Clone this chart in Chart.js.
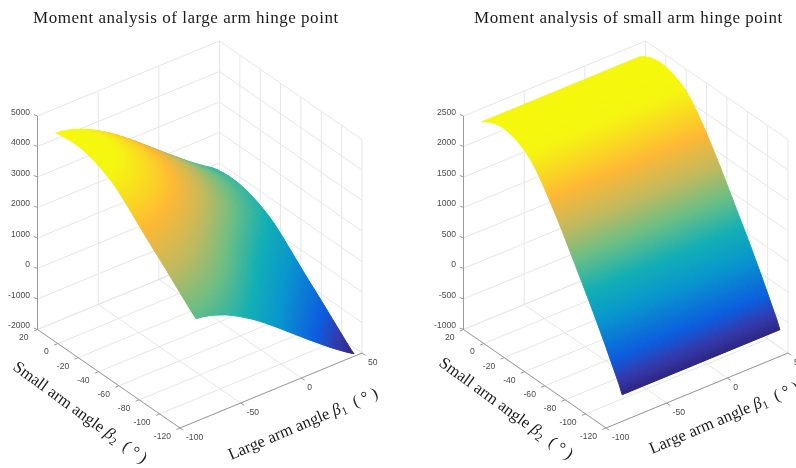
<!DOCTYPE html>
<html>
<head>
<meta charset="utf-8">
<title>Moment analysis</title>
<script src="https://cdn.jsdelivr.net/npm/chart.js@4"></script>
<style>
    html, body { margin: 0; padding: 0; background: #fff; overflow: hidden; }
    canvas { position: absolute; top: 0; filter: blur(0.4px); }
</style>
</head>
<body>
<canvas id="large-arm" width="400" height="468" style="left:0;width:400px;height:468px"></canvas>
<canvas id="small-arm" width="396" height="468" style="left:400px;width:396px;height:468px"></canvas>
<script>
// Angles of the surface samples
const beta1Samples = [-85, -80, -75, -70, -65, -60, -55, -50, -45, -40, -35, -30, -25, -20, -15, -10, -5, 0, 5, 10, 15, 20, 25, 30, 35, 40, 45];
const beta2Samples = [20, 15, 10, 5, 0, -5, -10, -15, -20, -25, -30, -35, -40, -45, -50, -55, -60, -65, -70, -75, -80, -85, -90, -95, -100, -105, -110, -115, -118];

// Large arm moment reads as a beta1 term plus a beta2 term, both taken off the surface edges
const largeArmBeta1Term = [0, -25, -70, -130, -205, -285, -385, -495, -615, -740, -875, -1020, -1170, -1325, -1480, -1640, -1800, -1960, -2120, -2275, -2430, -2585, -2735, -2880, -3020, -3155, -3279];
const largeArmBeta2Term = [4197, 4235, 4262, 4278, 4280, 4265, 4235, 4190, 4125, 4050, 3965, 3870, 3745, 3600, 3445, 3280, 3115, 2950, 2790, 2630, 2480, 2325, 2165, 2005, 1845, 1685, 1525, 1370, 1290];

// Small arm moment only changes with beta2
const smallArmMoment = [2280, 2340, 2385, 2412, 2425, 2420, 2400, 2365, 2320, 2260, 2180, 2070, 1945, 1810, 1670, 1525, 1375, 1215, 1055, 895, 735, 575, 410, 240, 70, -110, -290, -470, -600];

// Tick labels
const beta1Ticks = [-100, -50, 0, 50];
const beta2Ticks = [20, 0, -20, -40, -60, -80, -100, -120];
const largeArmMomentTicks = [-2000, -1000, 0, 1000, 2000, 3000, 4000, 5000];
const smallArmMomentTicks = [-1000, -500, 0, 500, 1000, 1500, 2000, 2500];

// Colour map stops
const mapStops = [0, 0.06, 0.14, 0.3, 0.42, 0.55, 0.66, 0.79, 0.95, 1];
const mapColors = [
    [44, 38, 130], [52, 56, 170], [12, 92, 222], [8, 150, 205], [18, 175, 180],
    [110, 190, 130], [190, 185, 95], [254, 184, 52], [245, 245, 16], [246, 248, 12]
];

const gridColor = '#e6e6e6';
const axisColor = '#9a9a9a';

function colorAt(t) {
    t = Math.min(1, Math.max(0, t));
    let k = 0;
    while (k < mapStops.length - 2 && t > mapStops[k + 1]) k++;
    const f = (t - mapStops[k]) / (mapStops[k + 1] - mapStops[k]);
    const c = mapColors[k].map((v, n) => Math.round(v + (mapColors[k + 1][n] - v) * f));
    return 'rgb(' + c.join(',') + ')';
}

function buildPanel(panel) {
    const beta1Range = [beta1Ticks[0], beta1Ticks[beta1Ticks.length - 1]];
    const beta2Range = [beta2Ticks[0], beta2Ticks[beta2Ticks.length - 1]];
    const zTicks = panel.zTicks;
    const zRange = [zTicks[0], zTicks[zTicks.length - 1]];

    // Fixed MATLAB style view, axes lengths in pixels
    function project(b1, b2, z) {
        const t1 = (b1 - beta1Range[0]) / (beta1Range[1] - beta1Range[0]);
        const t2 = (beta2Range[0] - b2) / (beta2Range[0] - beta2Range[1]);
        const tz = (z - zRange[0]) / (zRange[1] - zRange[0]);
        return {
            x: panel.originX + 182 * t1 + 142.5 * t2,
            y: 329.5 - 75 * t1 + 98.5 * t2 - 213.5 * tz
        };
    }

    const datasets = [];
    function addLine(points, color, width) {
        datasets.push({
            data: points,
            showLine: true,
            borderColor: color,
            borderWidth: width,
            pointRadius: 0,
            fill: false
        });
    }

    // Axes and ticks, on top
    const a = beta1Range, b = beta2Range, zLow = zRange[0], zHigh = zRange[1];
    addLine([project(a[0], b[0], zLow), project(a[0], b[0], zHigh)], axisColor, 1);
    addLine([project(a[0], b[0], zLow), project(a[0], b[1], zLow)], axisColor, 1);
    addLine([project(a[0], b[1], zLow), project(a[1], b[1], zLow)], axisColor, 1);
    beta1Ticks.forEach(v => {
        const p = project(v, b[1], zLow);
        addLine([p, { x: p.x + 3.4, y: p.y + 2.3 }], axisColor, 1);
    });
    beta2Ticks.forEach(v => {
        const p = project(a[0], v, zLow);
        addLine([p, { x: p.x - 3.7, y: p.y + 1.5 }], axisColor, 1);
    });
    zTicks.forEach(v => {
        const p = project(a[0], b[0], v);
        addLine([p, { x: p.x - 3.7, y: p.y - 1.5 }], axisColor, 1);
    });

    // Surface cells, front ones first since the first dataset ends up on top
    const values = panel.values;
    let zMin = Infinity, zMax = -Infinity;
    values.forEach(row => row.forEach(v => {
        zMin = Math.min(zMin, v);
        zMax = Math.max(zMax, v);
    }));
    const level = z => (z - zMin) / (zMax - zMin);
    for (let j = beta2Samples.length - 2; j >= 0; j--) {
        for (let i = 0; i < beta1Samples.length - 1; i++) {
            const corners = [[i, j], [i + 1, j], [i + 1, j + 1], [i, j + 1]];
            const pts = corners.map(c => project(beta1Samples[c[0]], beta2Samples[c[1]], values[c[1]][c[0]]));
            const zs = corners.map(c => values[c[1]][c[0]]);

            const paint = function (ctx) {
                const sx = ctx.chart.scales.x, sy = ctx.chart.scales.y;
                const px = pts.map(p => ({ x: sx.getPixelForValue(p.x), y: sy.getPixelForValue(p.y) }));
                const ux = px[1].x - px[0].x, uy = px[1].y - px[0].y, du = zs[1] - zs[0];
                const vx = px[3].x - px[0].x, vy = px[3].y - px[0].y, dv = zs[3] - zs[0];
                const det = ux * vy - uy * vx;
                const gx = (du * vy - dv * uy) / det, gy = (dv * ux - du * vx) / det;
                const g2 = gx * gx + gy * gy;
                const low = Math.min(...zs), high = Math.max(...zs);
                if (!(g2 > 0) || high === low) return colorAt(level(low));
                const s0 = (low - zs[0]) / g2, s1 = (high - zs[0]) / g2;
                const grad = ctx.chart.ctx.createLinearGradient(
                    px[0].x + gx * s0, px[0].y + gy * s0, px[0].x + gx * s1, px[0].y + gy * s1);
                for (let k = 0; k <= 6; k++) {
                    grad.addColorStop(k / 6, colorAt(level(low + (high - low) * k / 6)));
                }
                return grad;
            };

            datasets.push({
                data: pts.concat([pts[0]]),
                showLine: true,
                pointRadius: 0,
                borderWidth: 1,
                borderColor: paint,
                backgroundColor: paint,
                fill: 'shape'
            });
        }
    }

    // Grid on the floor and the two back walls
    beta1Ticks.forEach(v => {
        addLine([project(v, b[1], zLow), project(v, b[0], zLow), project(v, b[0], zHigh)], gridColor, 1);
    });
    beta2Ticks.forEach(v => {
        addLine([project(a[0], v, zLow), project(a[1], v, zLow), project(a[1], v, zHigh)], gridColor, 1);
    });
    zTicks.forEach(v => {
        addLine([project(a[0], b[0], v), project(a[1], b[0], v), project(a[1], b[1], v)], gridColor, 1);
    });

    // Text is placed through the same projection
    const textPlugin = {
        id: 'panelText',
        afterDatasetsDraw(chart) {
            const c = chart.ctx;
            const sx = chart.scales.x, sy = chart.scales.y;
            const tickFont = '8.6px "Liberation Sans"';

            function tickText(text, p, dx, dy, align) {
                c.font = tickFont;
                c.fillStyle = '#4c4c4c';
                c.textAlign = align;
                c.textBaseline = 'middle';
                c.fillText(text, sx.getPixelForValue(p.x) + dx, sy.getPixelForValue(p.y) + dy);
            }
            c.save();
            beta1Ticks.forEach(v => tickText(String(v), project(v, b[1], zLow), 6, 9.6, 'left'));
            beta2Ticks.forEach(v => tickText(String(v), project(a[0], v, zLow), -9, 8.5, 'right'));
            zTicks.forEach(v => tickText(String(v), project(a[0], b[0], v), -7.5, -3.6, 'right'));

            c.fillStyle = '#1c1c1c';
            c.textAlign = 'left';
            c.textBaseline = 'alphabetic';
            c.font = '17px "Liberation Serif"';
            if ('letterSpacing' in c) c.letterSpacing = '0.52px';
            c.fillText(panel.title, panel.titleX, 23);
            if ('letterSpacing' in c) c.letterSpacing = '0px';

            panel.labels.forEach(label => {
                c.save();
                c.translate(label.x, label.y);
                c.rotate(label.angle * Math.PI / 180);
                let cursor = 0;
                label.parts.forEach(part => {
                    c.font = part.font;
                    c.fillText(part.text, cursor, part.drop || 0);
                    cursor += c.measureText(part.text).width;
                });
                c.restore();
            });
            c.restore();
        }
    };

    new Chart(document.getElementById(panel.canvas), {
        type: 'scatter',
        data: { datasets: datasets },
        options: {
            responsive: false,
            animation: false,
            events: [],
            layout: { padding: 0 },
            elements: { line: { tension: 0 } },
            plugins: { legend: { display: false }, tooltip: { enabled: false } },
            scales: {
                x: { type: 'linear', display: false, min: 0, max: panel.width },
                y: { type: 'linear', display: false, min: 0, max: 468, reverse: true }
            }
        },
        plugins: [textPlugin]
    });
}

function axisLabel(words, digit) {
    const plain = '16.6px "Liberation Serif"';
    return [
        { text: words + ' ', font: plain },
        { text: 'β', font: 'italic 16.6px "Liberation Serif"' },
        { text: digit, font: '11.5px "Liberation Serif"', drop: 3 },
        { text: '  ( ° )', font: plain }
    ];
}

buildPanel({
    canvas: 'large-arm',
    width: 400,
    originX: 37.5,
    zTicks: largeArmMomentTicks,
    values: beta2Samples.map((_, j) => beta1Samples.map((__, i) => largeArmBeta1Term[i] + largeArmBeta2Term[j])),
    title: 'Moment analysis of large arm hinge point',
    titleX: 33,
    labels: [
        { x: 12, y: 369, angle: 36, parts: axisLabel('Small arm angle', '2') },
        { x: 231, y: 460, angle: -23, parts: axisLabel('Large arm angle', '1') }
    ]
});

buildPanel({
    canvas: 'small-arm',
    width: 396,
    originX: 63.5,
    zTicks: smallArmMomentTicks,
    values: beta2Samples.map((_, j) => beta1Samples.map(() => smallArmMoment[j])),
    title: 'Moment analysis of small arm hinge point',
    titleX: 74,
    labels: [
        { x: 38, y: 365, angle: 36, parts: axisLabel('Small arm angle', '2') },
        { x: 252, y: 454, angle: -23, parts: axisLabel('Large arm angle', '1') }
    ]
});
</script>
</body>
</html>
